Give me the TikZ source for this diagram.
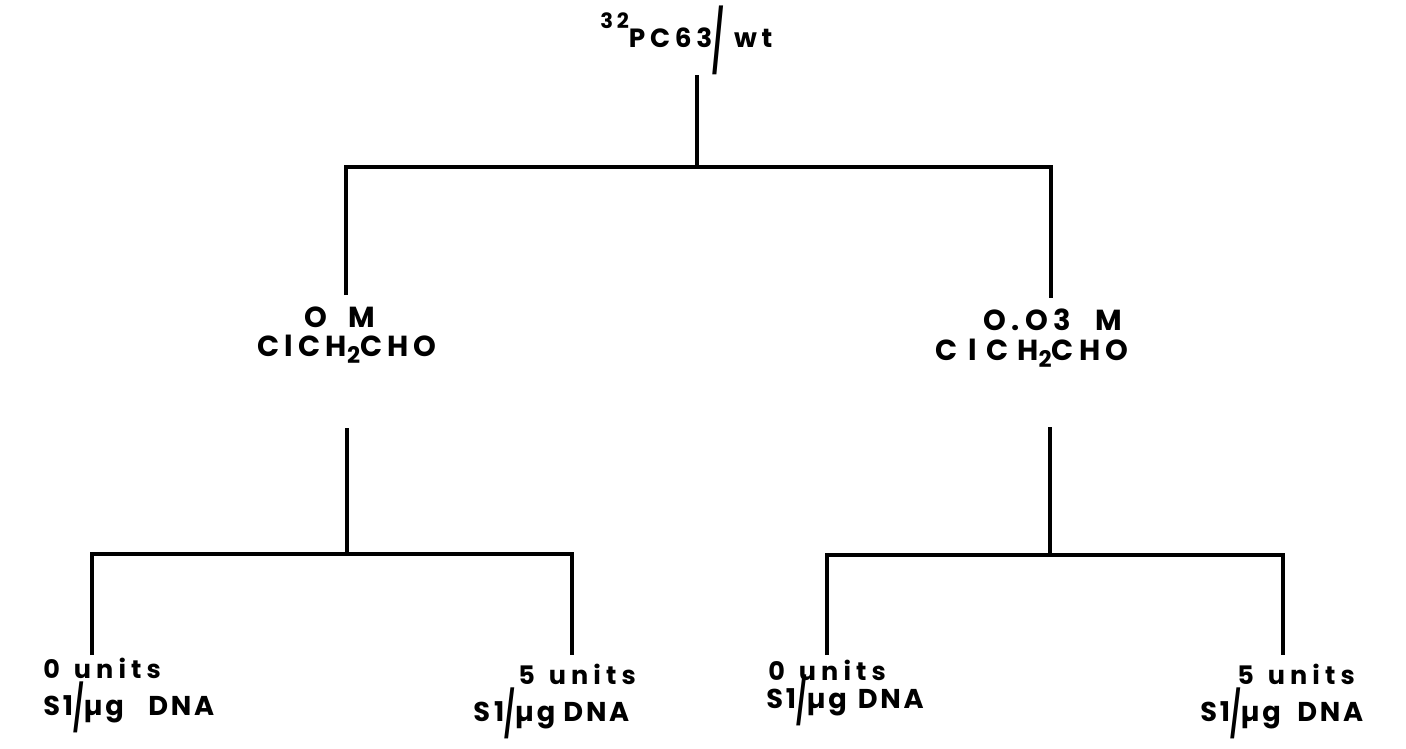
\documentclass[tikz,border=0pt]{standalone}
\usepackage{fontspec}
\usepackage{graphicx}
\setmainfont{Poppins}
\newfontfamily\labfont{Poppins}[LetterSpace=18]
\newfontfamily\botfont{Poppins}[LetterSpace=10]
\newfontfamily\unitfont{Poppins}[LetterSpace=20]
% tall slashes used in the labels
\newcommand{\tallslash}{\raisebox{-0.6ex}{\scalebox{0.85}[1.65]{/}}}
\newcommand{\hugeslash}{\raisebox{-1.1ex}{\scalebox{0.95}[2.3]{/}}}
\newcommand{\subtwo}{\raisebox{-0.45ex}{\fontsize{13}{13}\selectfont 2}}
\tikzset{
  lab/.style={inner sep=0pt, font=\labfont\bfseries\fontsize{16.5}{18}\selectfont},
  toplab/.style={inner sep=0pt, font=\labfont\bfseries\fontsize{15}{17}\selectfont},
  botlab/.style={inner sep=0pt, font=\botfont\bfseries\fontsize{15.5}{17}\selectfont},
  unitlab/.style={inner sep=0pt, font=\unitfont\bfseries\fontsize{14.5}{16}\selectfont},
  tree/.style={line width=2.3pt, line join=miter, black},
}
\begin{document}
\begin{tikzpicture}[x=0.02cm, y=-0.02cm]
\useasboundingbox (0,0) rectangle (1406,748);

% root label
\node[toplab, anchor=base west] (root) at (600,47)
  {\raisebox{1.25ex}{\fontsize{12}{12}\selectfont 32}PC63\hugeslash\ wt};

% treatment labels
\node[lab, anchor=base] (ml1) at (340,327) {O\hspace{0.75em}M};
\node[lab, anchor=base] (ml2) at (347,356) {ClCH\subtwo CHO};
\node[lab, anchor=base] (mr1) at (1053,330) {O.O3\hspace{0.85em}M};
\node[lab, anchor=base] (mr2) at (1032,360) {C\hspace{0.35em}l\hspace{0.35em}C\hspace{0.3em}H\subtwo CHO};

% nuclease labels
\node[unitlab, anchor=base west] (b1a) at (43,678) {0\hspace{0.55em}units};
\node[botlab, anchor=base west] (b1b) at (43,715) {S1\tallslash µg\hspace{0.9em}DNA};
\node[unitlab, anchor=base west] (b2a) at (518,684) {5\hspace{0.55em}units};
\node[botlab, anchor=base west] (b2b) at (473,721) {S\hspace{0.15em}1\tallslash µg\hspace{0.3em}DNA};
\node[unitlab, anchor=base west] (b3a) at (768,680) {0\hspace{0.55em}units};
\node[botlab, anchor=base west] (b3b) at (766,708) {S1\tallslash µg\hspace{0.4em}DNA};
\node[unitlab, anchor=base west] (b4a) at (1237,684) {5\hspace{0.55em}units};
\node[botlab, anchor=base west] (b4b) at (1200,721) {S1\tallslash µg\hspace{0.6em}DNA};

% branch points
\coordinate (r0) at (697,75);
\coordinate (r1) at (697,167);
\coordinate (rl) at (346,167);
\coordinate (rr) at (1051,167);
\coordinate (rle) at (346,295);
\coordinate (rre) at (1051,298);

\coordinate (l0) at (347,428);
\coordinate (l1) at (347,554);
\coordinate (la) at (92,554);
\coordinate (lb) at (572,554);
\coordinate (lae) at (92,655);
\coordinate (lbe) at (572,655);

\coordinate (q0) at (1050,427);
\coordinate (q1) at (1050,555);
\coordinate (qa) at (827,555);
\coordinate (qb) at (1283,555);
\coordinate (qae) at (827,655);
\coordinate (qbe) at (1283,655);

% connectors
\draw[tree] (r0) -- (r1);
\draw[tree] (rle) -- (rl) -- (rr) -- (rre);
\draw[tree] (l0) -- (l1);
\draw[tree] (lae) -- (la) -- (lb) -- (lbe);
\draw[tree] (q0) -- (q1);
\draw[tree] (qae) -- (qa) -- (qb) -- (qbe);
\end{tikzpicture}
\end{document}
